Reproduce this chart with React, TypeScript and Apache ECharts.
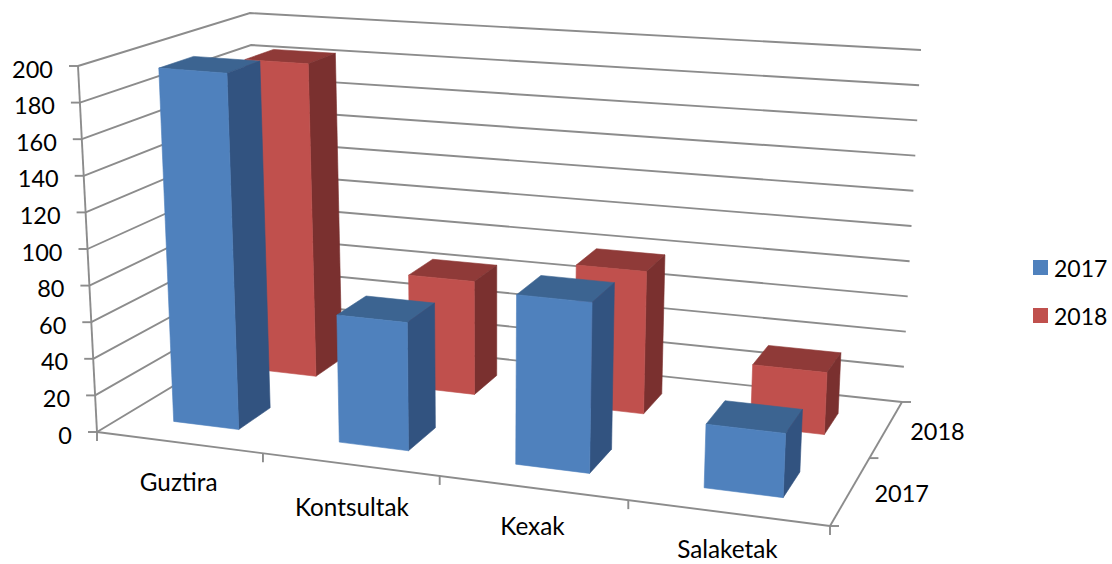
import React, { useEffect, useRef } from "react";
import * as echarts from "echarts";

const categories = ["Guztira", "Kontsultak", "Kexak", "Salaketak"];
const depthNames = ["2017", "2018"];
const values2017 = [196, 69, 90, 33];
const values2018 = [184, 65, 80, 34];
const valueTicks = [0, 20, 40, 60, 80, 100, 120, 140, 160, 180, 200];

const W = 1112;
const H = 564;
const FONT = "Lato";
const GRID = "#8c8c8c";
const TEXT = "#000000";

// Corners of the chart box on the page: [floor, top] at (u, w)
const A = [97, 432], B = [830, 526], C = [902, 402], D = [261, 333];
const At = [78, 66], Bt = [848, 126], Ct = [921, 50], Dt = [250, 13];
const KU = 0.878, KW = 1.21;
const warp = (a: number, k: number) => (k * a) / (1 + (k - 1) * a);
const mix = (p: number[], q: number[], t: number) => [p[0] + (q[0] - p[0]) * t, p[1] + (q[1] - p[1]) * t];

function project(u: number, v: number, w: number) {
  const s = warp(u, KU), t = warp(w, KW);
  const floor = mix(mix(A, B, s), mix(D, C, s), t);
  const top = mix(mix(At, Bt, s), mix(Dt, Ct, s), t);
  return mix(floor, top, v);
}

const BAR_U = 0.05, BAR_W = 0.096, BAR_SHIFT = 0.002;
// Label nudges under the floor's front edge
const CAT_DX = [0, 2, 0, 0];
const CAT_DY = [39, 42, 38, 36];

function barRenderer(w0: number, front: string, side: string, top: string) {
  return (_p: any, api: any) => {
    const c = api.coord([api.value(0), api.value(1)]);
    const u = c[0] / W + BAR_SHIFT, v = 1 - c[1] / H;
    const u0 = u - BAR_U, u1 = u + BAR_U, w1 = w0 - BAR_W, w2 = w0 + BAR_W;
    const poly = (pts: number[][], fill: string) => ({
      type: "polygon",
      shape: { points: pts },
      style: { fill, stroke: fill, lineWidth: 0.6 },
    });
    return {
      type: "group",
      children: [
        poly([project(u0, v, w1), project(u1, v, w1), project(u1, v, w2), project(u0, v, w2)], top),
        poly([project(u1, 0, w1), project(u1, 0, w2), project(u1, v, w2), project(u1, v, w1)], side),
        poly([project(u0, 0, w1), project(u1, 0, w1), project(u1, v, w1), project(u0, v, w1)], front),
      ],
    };
  };
}

const seg = (p: number[], q: number[]) => ({
  type: "line",
  shape: { x1: p[0], y1: p[1], x2: q[0], y2: q[1] },
  style: { stroke: GRID, lineWidth: 1.9 },
});
const label = (text: string, x: number, y: number, align: string, size: number) => ({
  type: "text",
  style: { text, x, y, align, verticalAlign: "middle", lineHeight: 24, fill: TEXT, font: `${size}px ${FONT}` },
});

function wallRenderer(_p: any, api: any) {
  const c = api.coord([0, api.value(1)]);
  const v = 1 - c[1] / H;
  const f = project(0, v, 0), b = project(0, v, 1), r = project(1, v, 1);
  return {
    type: "group",
    children: [
      { type: "polyline", shape: { points: [f, b, r] }, style: { stroke: GRID, lineWidth: 1.9, fill: "none" } },
      seg(f, [f[0] - 9, f[1]]),
      label(String(api.value(1)), f[0] - 25, f[1] + 2.5, "right", 23.5),
    ],
  };
}

function categoryRenderer(_p: any, api: any) {
  const i = api.value(0);
  const c = api.coord([i, 0]);
  const u = c[0] / W;
  const p = project(u, 0, 0);
  const edge = project(u + 0.125, 0, 0);
  return {
    type: "group",
    children: [
      seg(edge, [edge[0], edge[1] + 9]),
      label(categories[i], p[0] + CAT_DX[i], p[1] + CAT_DY[i], "center", 24.3),
    ],
  };
}

function depthRenderer(_p: any, api: any) {
  const i = api.value(0);
  const p = project(1, 0, (i + 0.5) / depthNames.length);
  const edge = project(1, 0, (i + 1) / depthNames.length);
  return {
    type: "group",
    children: [
      seg(edge, [edge[0] + 9, edge[1]]),
      label(depthNames[i], p[0] + 51, p[1] + 2.5, "center", 23.5),
    ],
  };
}

function frameRenderer() {
  return {
    type: "group",
    children: [
      seg(project(0, 1, 0), project(0, 0, 0)),
      seg(project(0, 0, 0), project(1, 0, 0)),
      seg(project(1, 0, 0), project(1, 0, 1)),
      seg(project(0, 0, 0), [project(0, 0, 0)[0], project(0, 0, 0)[1] + 9]),
      seg(project(1, 0, 0), [project(1, 0, 0)[0] + 9, project(1, 0, 0)[1]]),
    ],
  };
}

export default function App() {
  const ref = useRef<HTMLDivElement>(null);
  useEffect(() => {
    const chart = echarts.init(ref.current!, null, { renderer: "svg" });
    chart.setOption({
      animation: false,
      backgroundColor: "#ffffff",
      textStyle: { fontFamily: FONT },
      grid: { left: 0, right: 0, top: 0, bottom: 0 },
      xAxis: { type: "category", data: categories, show: false },
      yAxis: { type: "value", min: 0, max: 200, interval: 20, show: false },
      legend: {
        data: depthNames,
        orient: "vertical",
        left: 1033,
        top: 256,
        itemWidth: 15,
        itemHeight: 15,
        itemGap: 25,
        icon: "rect",
        selectedMode: false,
        textStyle: { fontFamily: FONT, fontSize: 23, color: TEXT, padding: [0, 0, 0, 1] },
        padding: 0,
      },
      series: [
        {
          type: "custom", name: "walls", coordinateSystem: "cartesian2d", clip: false, silent: true, z: 1,
          data: valueTicks.map((t) => [0, t]), renderItem: wallRenderer,
        },
        {
          type: "custom", name: "frame", coordinateSystem: "cartesian2d", clip: false, silent: true, z: 1,
          data: [[0, 0]], renderItem: frameRenderer,
        },
        {
          type: "custom", name: "categories", coordinateSystem: "cartesian2d", clip: false, silent: true, z: 1,
          data: categories.map((_c, i) => [i, 0]), renderItem: categoryRenderer,
        },
        {
          type: "custom", name: "depths", coordinateSystem: "cartesian2d", clip: false, silent: true, z: 1,
          data: depthNames.map((_c, i) => [i, 0]), renderItem: depthRenderer,
        },
        {
          type: "custom", name: "2018", coordinateSystem: "cartesian2d", clip: false, z: 2,
          itemStyle: { color: "#C0504D" },
          data: values2018.map((v, i) => [i, v]),
          renderItem: barRenderer(0.74, "#C0504D", "#7A302F", "#8F3A38"),
        },
        {
          type: "custom", name: "2017", coordinateSystem: "cartesian2d", clip: false, z: 3,
          itemStyle: { color: "#4F81BD" },
          data: values2017.map((v, i) => [i, v]),
          renderItem: barRenderer(0.24, "#4F81BD", "#325380", "#3C6491"),
        },
      ],
    });
    return () => chart.dispose();
  }, []);
  return <div ref={ref} style={{ position: "fixed", left: 0, top: 0, width: W, height: H }} />;
}
